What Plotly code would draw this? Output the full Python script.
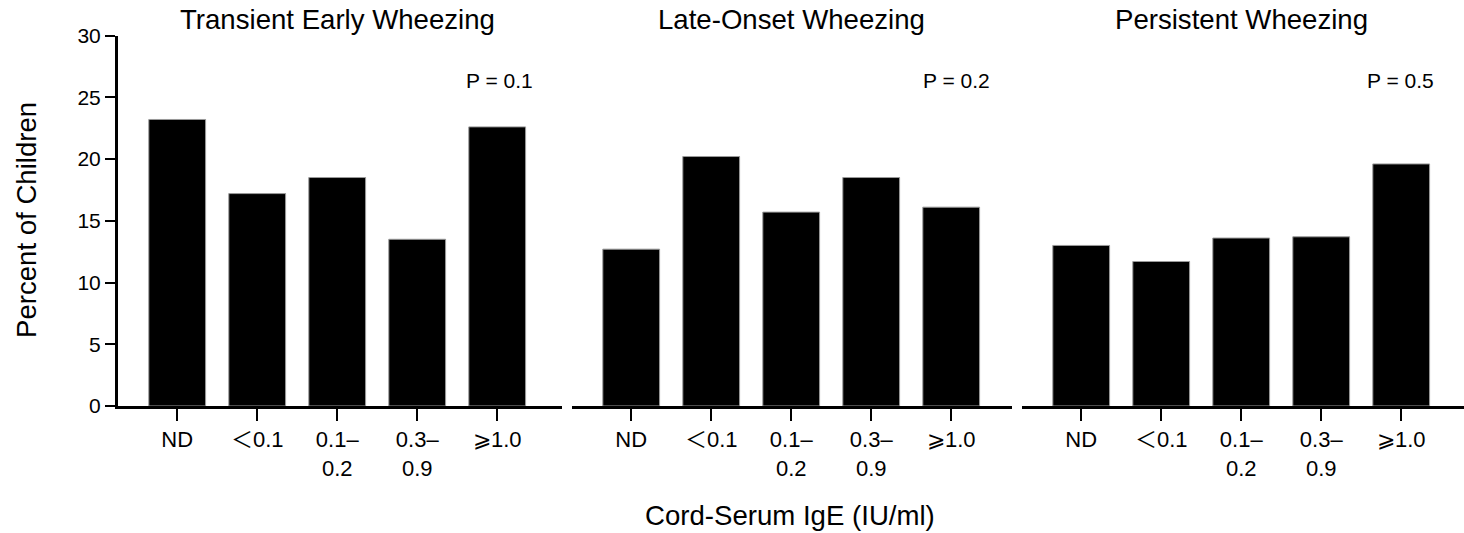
import plotly.graph_objects as go

categories = ["ND", "＜0.1", "0.1–<br>0.2", "0.3–<br>0.9", "⩾1.0"]
panel_titles = ["Transient Early Wheezing", "Late-Onset Wheezing", "Persistent Wheezing"]
p_values = ["P = 0.1", "P = 0.2", "P = 0.5"]
transient_early = [23.2, 17.2, 18.5, 13.5, 22.6]
late_onset = [12.7, 20.2, 15.7, 18.5, 16.1]
persistent = [13.0, 11.7, 13.6, 13.7, 19.6]
series = [transient_early, late_onset, persistent]
y_ticks = [0, 5, 10, 15, 20, 25, 30]

W, H = 1464, 533
FONT = "Liberation Sans, Arial, Noto Sans CJK SC, sans-serif"

def px_x(v):
    return v / W

def px_y(v):
    return (H - v) / H

domains = [(118, 562), (572, 1012), (1022, 1464)]
p_right = [535, 992, 1436]
y_dom = [px_y(406), px_y(35.5)]

fig = go.Figure()
for i, vals in enumerate(series):
    xa = "x" if i == 0 else f"x{i+1}"
    ya = "y" if i == 0 else f"y{i+1}"
    fig.add_trace(go.Bar(
        x=list(range(len(categories))), y=vals, xaxis=xa, yaxis=ya,
        marker=dict(color="black", line=dict(color="#9a9a9a", width=1)),
        width=0.71, showlegend=False, hoverinfo="skip",
    ))
    d0, d1 = domains[i]
    left = -0.74
    right = left + (d1 - d0) / 80.0
    axkey = "xaxis" if i == 0 else f"xaxis{i+1}"
    aykey = "yaxis" if i == 0 else f"yaxis{i+1}"
    fig.layout[axkey] = dict(
        domain=[px_x(d0), px_x(d1)], anchor=ya, range=[left, right], automargin=False,
        tickmode="array", tickvals=list(range(len(categories))), ticktext=categories,
        ticks="outside", ticklen=12, tickwidth=2, tickcolor="black",
        showline=True, linecolor="black", linewidth=3, showgrid=False, zeroline=False,
        tickfont=dict(family=FONT, size=22, color="black"),
    )
    fig.layout[aykey] = dict(
        domain=y_dom, anchor=xa, range=[0, 30], showgrid=False, zeroline=False,
        automargin=False,
        showline=(i == 0), linecolor="black", linewidth=3,
        ticks="outside" if i == 0 else "", ticklen=10, tickwidth=2, tickcolor="black",
        tickvals=y_ticks if i == 0 else [], showticklabels=(i == 0),
        tickfont=dict(family=FONT, size=21, color="black"),
    )
    fig.add_annotation(
        x=2, xref=xa, y=px_y(20), yref="paper", text=panel_titles[i], showarrow=False,
        font=dict(family=FONT, size=27.6, color="black"), xanchor="center", yanchor="middle",
    )
    fig.add_annotation(
        x=px_x(p_right[i]), xref="paper", y=px_y(80), yref="paper", text=p_values[i],
        showarrow=False, font=dict(family=FONT, size=21, color="black"),
        xanchor="right", yanchor="middle",
    )

fig.add_annotation(
    x=px_x(790), xref="paper", y=px_y(515), yref="paper", text="Cord-Serum IgE (IU/ml)",
    showarrow=False, font=dict(family=FONT, size=27.6, color="black"),
    xanchor="center", yanchor="middle",
)
fig.add_annotation(
    x=px_x(26), xref="paper", y=px_y(220), yref="paper", text="Percent of Children",
    showarrow=False, textangle=-90, font=dict(family=FONT, size=27.6, color="black"),
    xanchor="center", yanchor="middle",
)

fig.update_layout(
    width=W, height=H, margin=dict(l=0, r=0, t=0, b=0, autoexpand=False),
    plot_bgcolor="white", paper_bgcolor="white", bargap=0.3,
)
fig.write_html("out.html")
